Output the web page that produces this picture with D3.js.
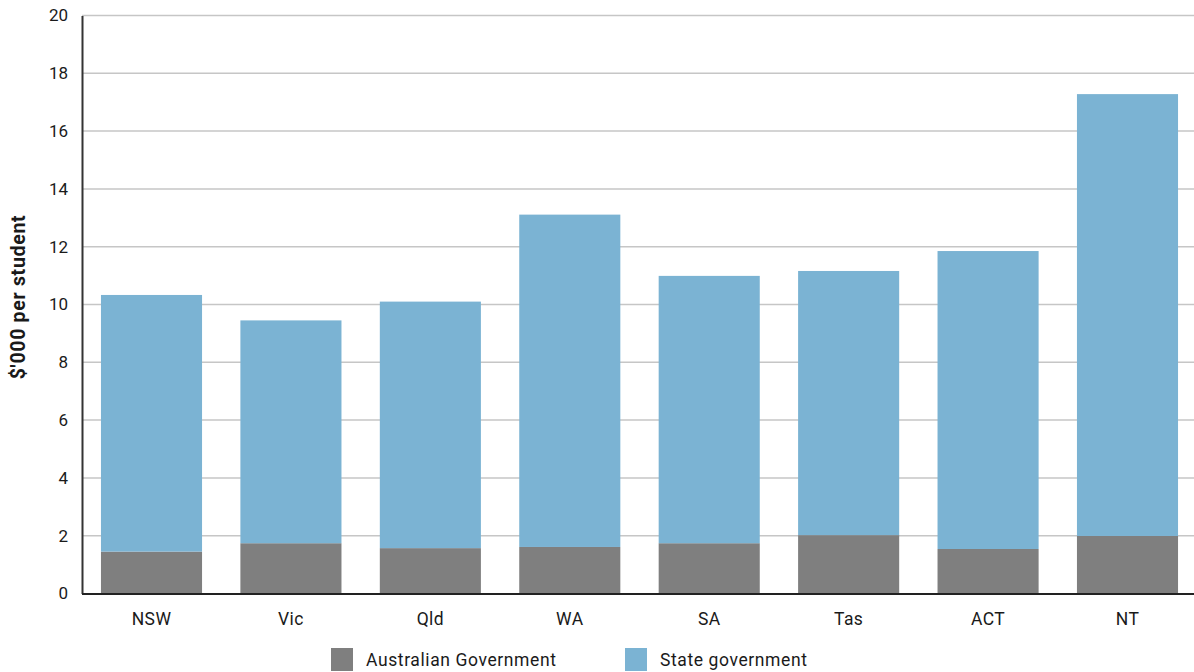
<!DOCTYPE html>
<html><head><meta charset="utf-8">
<script src="https://cdn.jsdelivr.net/npm/d3@7"></script>
<style>
body{margin:0;background:#fff;}
text{font-family:"Roboto","DejaVu Sans",sans-serif;fill:#1a1a1a;}
</style></head>
<body><svg id="c" width="1194" height="672"></svg>
<script>
const categories = ["NSW","Vic","Qld","WA","SA","Tas","ACT","NT"];
const seriesNames = ["Australian Government","State government"];
const totals = [10.33, 9.45, 10.10, 13.11, 10.99, 11.16, 11.85, 17.28];
const australianGov = [1.45, 1.74, 1.57, 1.61, 1.74, 2.02, 1.54, 1.99];
const stateGov = totals.map((t,i)=>+(t-australianGov[i]).toFixed(2));
const yTicks = [0,2,4,6,8,10,12,14,16,18,20];
const colors = ["#7f7f7f","#7bb3d3"];

const svg = d3.select("#c");
const x = d3.scaleBand().domain(categories).range([82,1197]).paddingInner(0.275).paddingOuter(0.136);
const y = d3.scaleLinear().domain([0,20]).range([593.5,15.5]);

// gridlines
svg.append("g").selectAll("line").data(yTicks.filter(d=>d>0)).join("line")
  .attr("x1",82).attr("x2",1194).attr("y1",d=>y(d)).attr("y2",d=>y(d))
  .attr("stroke","#c6c6c6").attr("stroke-width",1.5);

const data = categories.map((c,i)=>({cat:c, a:australianGov[i], s:stateGov[i]}));
const stack = d3.stack().keys(["a","s"])(data);
svg.append("g").selectAll("g").data(stack).join("g").attr("fill",(d,i)=>colors[i])
  .selectAll("rect").data(d=>d).join("rect")
  .attr("x",d=>x(d.data.cat)).attr("width",x.bandwidth())
  .attr("y",d=>y(d[1])).attr("height",d=>y(d[0])-y(d[1]));

// axes
const ya = svg.append("g").attr("transform","translate(82,0)")
  .call(d3.axisLeft(y).tickValues(yTicks).tickSize(0).tickPadding(14));
ya.select(".domain").attr("stroke","#333").attr("stroke-width",2);
ya.selectAll("text").style("font-size","17px").attr("fill","#1a1a1a").style("font-family","Roboto, sans-serif");

const xa = svg.append("g").attr("transform","translate(0,594)")
  .call(d3.axisBottom(x).tickSize(0).tickPadding(19));
xa.select(".domain").attr("stroke","#222").attr("stroke-width",2).attr("d","M82,0H1194");
xa.selectAll("text").style("font-size","17.5px").style("letter-spacing","0.4px").attr("fill","#1a1a1a").style("font-family","Roboto, sans-serif");

svg.append("text").attr("transform","translate(25,297) rotate(-90)")
  .attr("text-anchor","middle").style("font-size","19.5px").style("font-weight","bold")
  .style("letter-spacing","0.7px")
  .text("$'000 per student");

// legend
const legX = [331,625];
const lg = svg.append("g").selectAll("g").data(seriesNames).join("g")
  .attr("transform",(d,i)=>`translate(${legX[i]},648)`);
lg.append("rect").attr("width",22).attr("height",23).attr("fill",(d,i)=>colors[i]);
lg.append("text").attr("x",35).attr("y",18).style("font-size","17.5px").style("letter-spacing","0.6px").text(d=>d);
</script></body></html>
